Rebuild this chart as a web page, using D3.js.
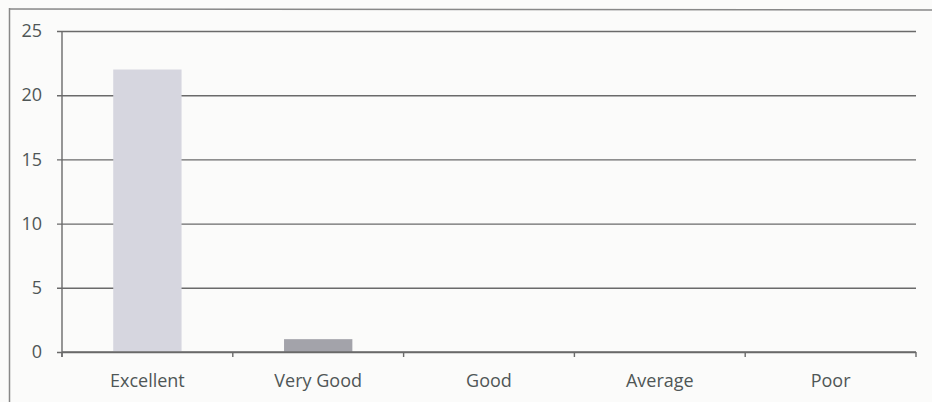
<!DOCTYPE html>
<html>
<head>
<meta charset="utf-8">
<script src="https://cdn.jsdelivr.net/npm/d3@7"></script>
<style>
  body { margin: 0; background: #fbfbfa; }
  svg { display: block; }
  text { font-family: "Open Sans", sans-serif; fill: #4f5656; }
</style>
</head>
<body>
<svg id="chart" width="932" height="402"></svg>
<script>
// data
const categories = ['Excellent', 'Very Good', 'Good', 'Average', 'Poor'];
const counts = [22, 1, 0, 0, 0];
const barColors = ['#d6d6df', '#a3a3aa', '#d6d6df', '#d6d6df', '#d6d6df'];
const yTicks = [0, 5, 10, 15, 20, 25];

const svg = d3.select('#chart');
const margin = { left: 62, right: 16, top: 31, bottom: 50 };
const width = 932, height = 402;
const lineColor = '#6a6a6a';

// outer frame (only left and top edges show in the scan)
svg.append('line')
  .attr('x1', 9.5).attr('x2', 9.5)
  .attr('y1', 8).attr('y2', height)
  .attr('stroke', '#888').attr('stroke-width', 1.5);
svg.append('line')
  .attr('x1', 9).attr('x2', width)
  .attr('y1', 9).attr('y2', 10)
  .attr('stroke', '#888').attr('stroke-width', 1.5);

const x = d3.scaleBand()
  .domain(categories)
  .range([margin.left, width - margin.right])
  .paddingInner(0.6)
  .paddingOuter(0.3);

const y = d3.scaleLinear()
  .domain([0, 25])
  .range([height - margin.bottom, margin.top]);

// gridlines with small left ticks
const yAxis = d3.axisLeft(y)
  .tickValues(yTicks)
  .tickSize(-(width - margin.right - margin.left))
  .tickPadding(20);
const gy = svg.append('g')
  .attr('transform', `translate(${margin.left},0)`)
  .call(yAxis);
gy.select('.domain').remove();
gy.selectAll('.tick line')
  .attr('x1', -5)
  .attr('stroke', lineColor)
  .attr('stroke-width', 1.4);
gy.selectAll('.tick text')
  .attr('font-size', 18)
  .attr('font-family', '"Open Sans", sans-serif')
  .attr('fill', '#4f5656');

// y axis line
svg.append('line')
  .attr('x1', margin.left).attr('x2', margin.left)
  .attr('y1', y(25)).attr('y2', y(0) + 5)
  .attr('stroke', lineColor).attr('stroke-width', 1.4);

// bars
svg.append('g')
  .selectAll('rect')
  .data(counts)
  .join('rect')
  .attr('x', (d, i) => x(categories[i]))
  .attr('y', d => y(d))
  .attr('width', x.bandwidth())
  .attr('height', d => y(0) - y(d))
  .attr('fill', (d, i) => barColors[i]);

// category axis with ticks at band boundaries
const step = x.step();
const bounds = d3.range(categories.length + 1).map(i => margin.left + i * step);
svg.append('line')
  .attr('x1', margin.left).attr('x2', width - margin.right)
  .attr('y1', y(0)).attr('y2', y(0))
  .attr('stroke', lineColor).attr('stroke-width', 1.4);
svg.append('g')
  .selectAll('line')
  .data(bounds)
  .join('line')
  .attr('x1', d => d).attr('x2', d => d)
  .attr('y1', y(0)).attr('y2', y(0) + 5)
  .attr('stroke', lineColor).attr('stroke-width', 1.4);

svg.append('g')
  .selectAll('text')
  .data(categories)
  .join('text')
  .attr('x', d => x(d) + x.bandwidth() / 2)
  .attr('y', y(0) + 35)
  .attr('text-anchor', 'middle')
  .attr('font-size', 18)
  .text(d => d);
</script>
</body>
</html>
